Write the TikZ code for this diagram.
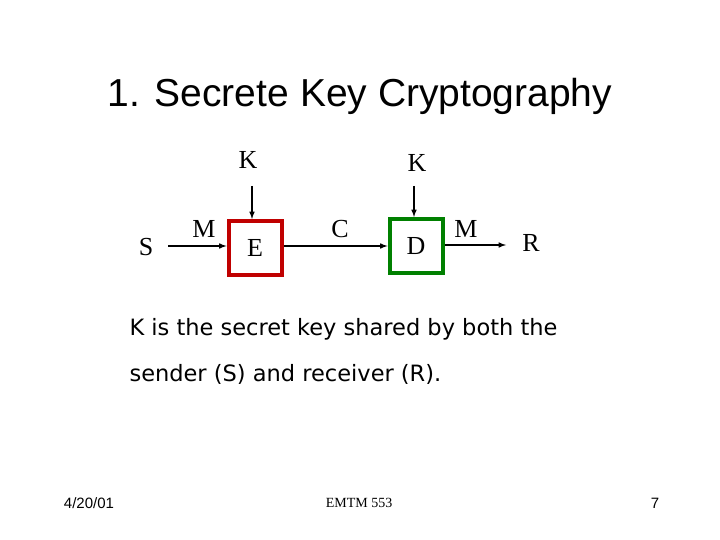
\documentclass[tikz,border=0pt]{standalone}
\usepackage{fontspec}
\setmainfont{Liberation Serif}
\newfontfamily\arial{Liberation Sans}
\newfontfamily\body{DejaVu Sans}
\begin{document}
\begin{tikzpicture}[x=1pt,y=-1pt,
  lbl/.style={font=\fontsize{26}{30}\selectfont},
  boxE/.style={draw={rgb,255:red,192;green,0;blue,0},line width=4pt,minimum width=53pt,minimum height=54pt,font=\fontsize{26}{30}\selectfont},
  boxD/.style={draw={rgb,255:red,0;green,128;blue,0},line width=4pt,minimum width=53pt,minimum height=54pt,font=\fontsize{26}{30}\selectfont},
  arr/.style={draw,line width=1.5pt,-latex}]
\useasboundingbox[fill=white] (0,0) rectangle (720,540);
\node[font=\arial\fontsize{39}{44}\selectfont] (title) at (360,96) {1. Secrete Key Cryptography};
\node[boxE] (E) at (255,248) {E};
\node[boxD] (D) at (416,246) {D};
\node[lbl] (S) at (146,247) {S};
\node[lbl] (R) at (531,243) {R};
\node[lbl] (K1) at (248,160) {K};
\node[lbl] (K2) at (417,163) {K};
\node[lbl] (M1) at (204,229) {M};
\node[lbl] (C) at (340,229) {C};
\node[lbl] (M2) at (466,229) {M};
\coordinate (Sout) at (168,246);
\coordinate (Rin) at (506,245);
\coordinate (K1out) at (252,186);
\coordinate (K2out) at (414,186);
\draw[arr] (Sout) -- (Sout -| E.west);
\draw[arr] (E.east |- 0,246) -- (D.west |- 0,246);
\draw[arr] (D.east |- Rin) -- (Rin);
\draw[arr] (K1out) -- (K1out |- E.north);
\draw[arr] (K2out) -- (K2out |- D.north);
\node[anchor=west,font=\body\fontsize{22.5}{26}\selectfont] (t1) at (126,329) {K is the secret key shared by both the};
\node[anchor=west,font=\body\fontsize{22.5}{26}\selectfont] (t2) at (126,374) {sender (S) and receiver (R).};
\node[font=\arial\fontsize{15}{17}\selectfont] (date) at (89,503) {4/20/01};
\node[font=\fontsize{14}{16}\selectfont] (foot) at (359,503) {EMTM 553};
\node[font=\arial\fontsize{15}{17}\selectfont] (pg) at (655,503) {7};
\end{tikzpicture}
\end{document}
